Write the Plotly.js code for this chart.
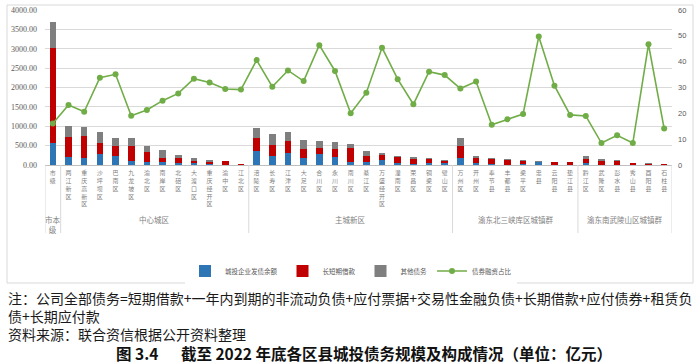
<!DOCTYPE html>
<html>
<head>
<meta charset="utf-8">
<script src="https://cdn.plot.ly/plotly-3.0.1.min.js"></script>
<style>html,body{margin:0;padding:0;background:#fff;}#chart{width:700px;height:363px;}</style>
</head>
<body>
<div id="chart"></div>
<script>
// ---- data ----
const categories = ["市级",
  "两江新区","重庆高新区","沙坪坝区","巴南区","九龙坡区","渝北区","南岸区","北碚区","大渡口区","重庆经开区","渝中区","江北区",
  "涪陵区","长寿区","江津区","大足区","合川区","永川区","南川区","綦江区","万盛经开区","潼南区","荣昌区","铜梁区","璧山区",
  "万州区","开州区","奉节县","丰都县","梁平区","忠县","云阳县","垫江县",
  "黔江区","武隆区","彭水县","秀山县","酉阳县","石柱县"];
const bondBalance = [576,
  215,189,275,232,103,86,86,60,43,34,10,3,
  361,232,301,189,284,198,86,86,129,60,34,52,43,
  189,60,17,9,17,69,9,5,
  43,9,9,3,9,3];
const loans = [2452,
  516,568,301,258,387,249,103,112,60,52,85,14,
  344,275,310,232,163,215,361,146,120,138,112,103,60,
  301,112,129,120,78,9,60,72,
  103,103,94,49,25,23];
const otherDebt = [662,
  275,232,267,207,207,164,198,95,69,43,0,0,
  258,301,249,215,181,172,86,138,69,43,60,26,26,
  198,60,26,17,25,17,8,0,
  86,51,17,0,9,0];
const bondRatio = [16.1,
  23.2,20.6,33.8,35.1,19.1,21.3,24.9,27.7,33.4,31.9,29.4,29.2,
  40.6,30.3,36.6,32.5,46.4,36.4,20.0,28.0,45.4,33.2,23.5,36.1,34.8,
  29.6,32.3,15.6,17.7,19.7,49.7,30.7,19.4,
  19.0,8.5,11.5,8.5,46.7,14.1];
const seriesNames = ["城投企业发债余额","长短期借款","其他债务","债券融资占比"];
const groupNames = ["市本<br>级","中心城区","主城新区","渝东北三峡库区城镇群","渝东南武陵山区城镇群"];
const groupStart = [0,1,13,26,34];
const groupEnd = [0,12,25,33,39];
const leftTicks = [0,500,1000,1500,2000,2500,3000,3500,4000];
const rightTicks = [0,10,20,30,40,50,60];
const noteLines = [
  "注：公司全部债务=短期借款+一年内到期的非流动负债+应付票据+交易性金融负债+长期借款+应付债券+租赁负",
  "债+长期应付款",
  "资料来源：联合资信根据公开资料整理"
];
const figTitle = "图 3.4\u3000\u00a0\u00a0截至 2022 年底各区县城投债务规模及构成情况（单位：亿元）";

// ---- layout geometry (pixels) ----
const W = 700, H = 363, ML = 45, MR = 28, MT = 10, MB = 198;
const PW = W - ML - MR, PH = H - MT - MB;
const px2x = p => (p - ML) / PW;
const py2y = p => (H - MB - p) / PH;

const cjk = '"Noto Sans CJK SC", "Noto Sans", sans-serif';
const serif = '"Times New Roman", "Liberation Serif", serif';

// vertical tick labels: one character per line
const verticalText = categories.map(c => Array.from(c).join('<br>'));

const traces = [
  {type:'bar', name:seriesNames[0], x:categories, y:bondBalance, marker:{color:'#2E75B6'}},
  {type:'bar', name:seriesNames[1], x:categories, y:loans, marker:{color:'#C00000'}},
  {type:'bar', name:seriesNames[2], x:categories, y:otherDebt, marker:{color:'#7F7F7F'}},
  {type:'scatter', mode:'lines+markers', name:seriesNames[3], x:categories, y:bondRatio, yaxis:'y2',
   line:{color:'#70AD47', width:1.6}, marker:{color:'#70AD47', size:6}, cliponaxis:false}
];

const annotations = [];
// group labels
groupNames.forEach((g, i) => {
  const mid = (groupStart[i] + groupEnd[i]) / 2;
  annotations.push({x:mid, xref:'x', y:py2y(i === 0 ? 224 : 219), yref:'paper', yanchor:'middle',
    xanchor:'center', showarrow:false, text:g, font:{family:cjk, size:7.5, color:'#7f7f7f'}});
});
// notes
const noteY = [298, 316, 334];
noteLines.forEach((t, i) => {
  annotations.push({x:px2x(6), xref:'paper', y:py2y(noteY[i]), yref:'paper', xanchor:'left', yanchor:'middle',
    showarrow:false, text:t, font:{family:cjk, size:14, color:'#1a1a1a'}});
});
annotations.push({x:px2x(364), xref:'paper', y:py2y(353), yref:'paper', xanchor:'center', yanchor:'middle',
  showarrow:false, text:'<b>' + figTitle + '</b>', font:{family:cjk, size:15.5, color:'#111'}});

const shapes = [];
// chart frame
shapes.push({type:'rect', xref:'paper', yref:'paper', x0:px2x(7), x1:px2x(693), y0:py2y(283), y1:py2y(5),
  line:{color:'#d9d9d9', width:1}, fillcolor:'rgba(0,0,0,0)', layer:'below'});
// group dividers
const dividers = [groupStart[0]-0.5].concat(groupEnd.map(e => e + 0.5));
dividers.forEach(d => {
  shapes.push({type:'line', xref:'x', yref:'paper', x0:d, x1:d, y0:0, y1:py2y(233),
    line:{color:'#d9d9d9', width:1}});
});

const layout = {
  width:W, height:H,
  margin:{l:ML, r:MR, t:MT, b:MB, pad:0},
  paper_bgcolor:'#fff', plot_bgcolor:'#fff',
  barmode:'stack', bargap:0.58,
  showlegend:true,
  legend:{orientation:'h', x:px2x(351), xanchor:'center', y:py2y(271), yanchor:'middle',
    font:{family:cjk, size:6.5, color:'#595959'}, itemwidth:30, traceorder:'normal'},
  xaxis:{type:'category', tickmode:'array', tickvals:categories, ticktext:verticalText, tickangle:0,
    ticks:'', ticklabelstandoff:2, tickfont:{family:cjk, size:6, color:'#7f7f7f'},
    showgrid:false, showline:true, linecolor:'#bfbfbf', linewidth:1, zeroline:false,
    range:[-0.5, categories.length-0.5]},
  yaxis:{range:[0,4000], tickvals:leftTicks, tickformat:'.2f', showgrid:true, gridcolor:'#d9d9d9',
    gridwidth:1, zeroline:false, showline:false, ticks:'', ticklabelstandoff:7,
    tickfont:{family:serif, size:8, color:'#595959'}},
  yaxis2:{overlaying:'y', side:'right', range:[0,60], tickvals:rightTicks, showgrid:false, zeroline:false,
    showline:false, ticks:'', ticklabelstandoff:5,
    tickfont:{family:'"Liberation Sans", sans-serif', size:7.5, color:'#595959'}},
  annotations:annotations,
  shapes:shapes
};

Plotly.newPlot('chart', traces, layout, {staticPlot:true, displayModeBar:false});
</script>
</body>
</html>
